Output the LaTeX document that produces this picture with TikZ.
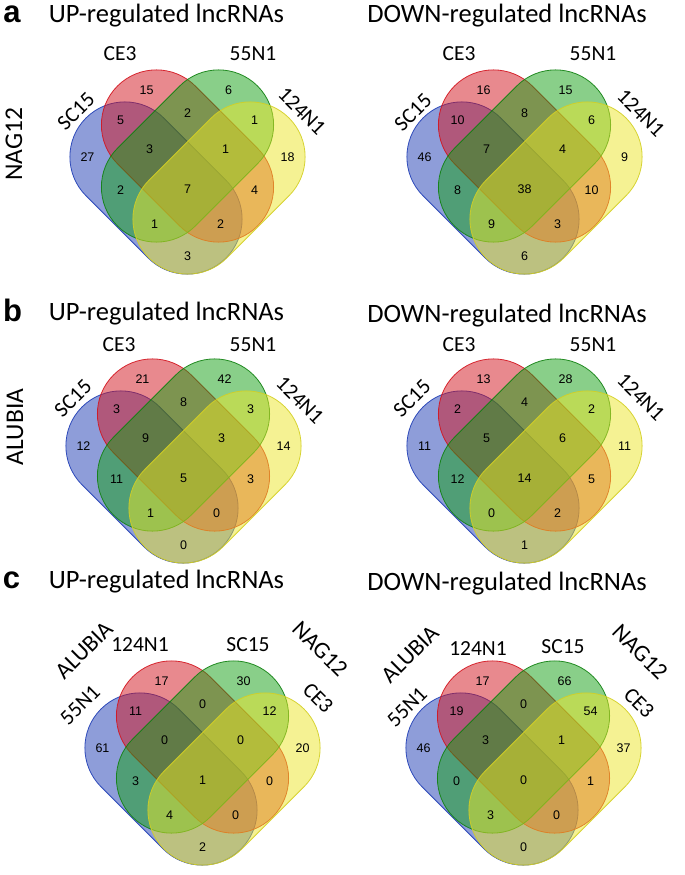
\documentclass[tikz,border=0pt]{standalone}
\usepackage{fontspec}
\setmainfont{Carlito}
\newfontfamily\numfont{Liberation Sans}
\usetikzlibrary{calc}

\definecolor{vblue}{RGB}{30,60,180}
\definecolor{vred}{RGB}{210,20,30}
\definecolor{vgreen}{RGB}{20,160,20}
\definecolor{vyellow}{RGB}{235,230,40}

\tikzset{
  capsule/.style={rounded corners=55pt, line width=0.8pt, fill opacity=0.5, draw opacity=0.9},
  bluecap/.style={capsule, fill=vblue, draw=vblue},
  redcap/.style={capsule, fill=vred, draw=vred},
  greencap/.style={capsule, fill=vgreen, draw=vgreen!80!black},
  yellowcap/.style={capsule, fill=vyellow, draw=vyellow!90!black},
  num/.style={inner sep=0pt, font=\numfont\fontsize{12.5}{15}\selectfont},
  setlabel/.style={inner sep=0pt, font=\fontsize{21.5}{25}\selectfont},
  grouplabel/.style={inner sep=0pt, font=\fontsize{25.5}{30}\selectfont},
  slantgroup/.style={inner sep=0pt, font=\fontsize{23.5}{28}\selectfont},
  paneltitle/.style={inner sep=0pt, anchor=base, font=\fontsize{26.5}{30}\selectfont},
  panelletter/.style={inner sep=0pt, anchor=base, font=\numfont\bfseries\fontsize{31}{34}\selectfont}
}

% four capsules round the origin #1
\newcommand{\vennshapes}[1]{%
  \begin{scope}[shift={($(#1)+(-31.5,32)$)}, rotate=-45]
    \filldraw[bluecap] (-99,-55) rectangle (99,55);
  \end{scope}
  \begin{scope}[shift={(#1)}, rotate=-45]
    \filldraw[redcap] (-99,-55) rectangle (99,55);
  \end{scope}
  \begin{scope}[shift={(#1)}, rotate=45]
    \filldraw[greencap] (-99,-55) rectangle (99,55);
  \end{scope}
  \begin{scope}[shift={($(#1)+(31.5,32)$)}, rotate=45]
    \filldraw[yellowcap] (-99,-55) rectangle (99,55);
  \end{scope}
}

% region counts, order: R G B Y BR RG GY BRG RGY BG all RY BGY BRY BY
\newcommand{\venncounts}[2]{%
  \foreach \dx/\dy [count=\i] in {-41/-66, 41/-66, -100/1, 100/1, -67/-36,
      0/-43, 67/-36, -38/-7, 38/-7, -67/34, 0/33, 67/34, -33/68, 33/68, 0/100} {
    \coordinate (#1-r\i) at ($(#1)+(\dx,\dy)$);
  }
  \foreach \val [count=\i] in {#2} {
    \node[num] (#1-n\i) at (#1-r\i) {\val};
  }
}

\begin{document}
\begin{tikzpicture}[x=1pt, y=-1pt]
  \useasboundingbox (0,0) rectangle (685,875);

  % origins of the six diagrams
  \coordinate (aL) at (187.5,156);
  \coordinate (aR) at (524.5,156);
  \coordinate (bL) at (183.5,445);
  \coordinate (bR) at (524.5,445);
  \coordinate (cL) at (202.5,747);
  \coordinate (cR) at (523.5,747);

  % panel a
  \node[panelletter] (lettera) at (12,23) {a};
  \node[paneltitle] (titleaL) at (166.5,23) {UP-regulated lncRNAs};
  \node[paneltitle] (titleaR) at (507,23) {DOWN-regulated lncRNAs};
  \node[grouplabel, rotate=90] (groupa) at (14,144) {NAG12};
  \vennshapes{aL}
  \venncounts{aL}{15,6,27,18,5,2,1,3,1,2,7,4,1,2,3}
  \node[setlabel] (aL-ce3) at (120,54) {CE3};
  \node[setlabel] (aL-55n1) at (253,54) {55N1};
  \node[setlabel, rotate=45] (aL-sc15) at (76,111) {SC15};
  \node[setlabel, rotate=-45] (aL-124n1) at (302,111) {124N1};
  \vennshapes{aR}
  \venncounts{aR}{16,15,46,9,10,8,6,7,4,8,38,10,9,3,6}
  \node[setlabel] (aR-ce3) at (459,54) {CE3};
  \node[setlabel] (aR-55n1) at (593,54) {55N1};
  \node[setlabel, rotate=45] (aR-sc15) at (413,112) {SC15};
  \node[setlabel, rotate=-45] (aR-124n1) at (641,113) {124N1};

  % panel b
  \node[panelletter] (letterb) at (12.5,321) {b};
  \node[paneltitle] (titlebL) at (166.5,320) {UP-regulated lncRNAs};
  \node[paneltitle] (titlebR) at (507,322) {DOWN-regulated lncRNAs};
  \node[grouplabel, rotate=90] (groupb) at (15,427) {ALUBIA};
  \vennshapes{bL}
  \venncounts{bL}{21,42,12,14,3,8,3,9,3,11,5,3,1,0,0}
  \node[setlabel] (bL-ce3) at (119,345) {CE3};
  \node[setlabel] (bL-55n1) at (253,345) {55N1};
  \node[setlabel, rotate=45] (bL-sc15) at (73,398) {SC15};
  \node[setlabel, rotate=-45] (bL-124n1) at (300,400) {124N1};
  \vennshapes{bR}
  \venncounts{bR}{13,28,11,11,2,4,2,5,6,12,14,5,0,2,1}
  \node[setlabel] (bR-ce3) at (459,345) {CE3};
  \node[setlabel] (bR-55n1) at (593,345) {55N1};
  \node[setlabel, rotate=45] (bR-sc15) at (412,398) {SC15};
  \node[setlabel, rotate=-45] (bR-124n1) at (641,397) {124N1};

  % panel c
  \node[panelletter] (letterc) at (11.5,588) {c};
  \node[paneltitle] (titlecL) at (166.5,588) {UP-regulated lncRNAs};
  \node[paneltitle] (titlecR) at (507,590) {DOWN-regulated lncRNAs};
  \vennshapes{cL}
  \venncounts{cL}{17,30,61,20,11,0,12,0,0,3,1,0,4,0,2}
  \node[slantgroup, rotate=45] (cL-alubia) at (84,650) {ALUBIA};
  \node[slantgroup, rotate=-45] (cL-nag12) at (320,649) {NAG12};
  \node[setlabel] (cL-124n1) at (140,645) {124N1};
  \node[setlabel] (cL-sc15) at (248,645) {SC15};
  \node[setlabel, rotate=45] (cL-55n1) at (80,705) {55N1};
  \node[setlabel, rotate=-45] (cL-ce3) at (318,698) {CE3};
  \vennshapes{cR}
  \venncounts{cR}{17,66,46,37,19,0,54,3,1,0,0,1,3,0,0}
  \node[slantgroup, rotate=45] (cR-alubia) at (410,654) {ALUBIA};
  \node[slantgroup, rotate=-45] (cR-nag12) at (640,652) {NAG12};
  \node[setlabel] (cR-124n1) at (478,649) {124N1};
  \node[setlabel] (cR-sc15) at (563,647) {SC15};
  \node[setlabel, rotate=45] (cR-55n1) at (407,707) {55N1};
  \node[setlabel, rotate=-45] (cR-ce3) at (639,703) {CE3};
\end{tikzpicture}
\end{document}
